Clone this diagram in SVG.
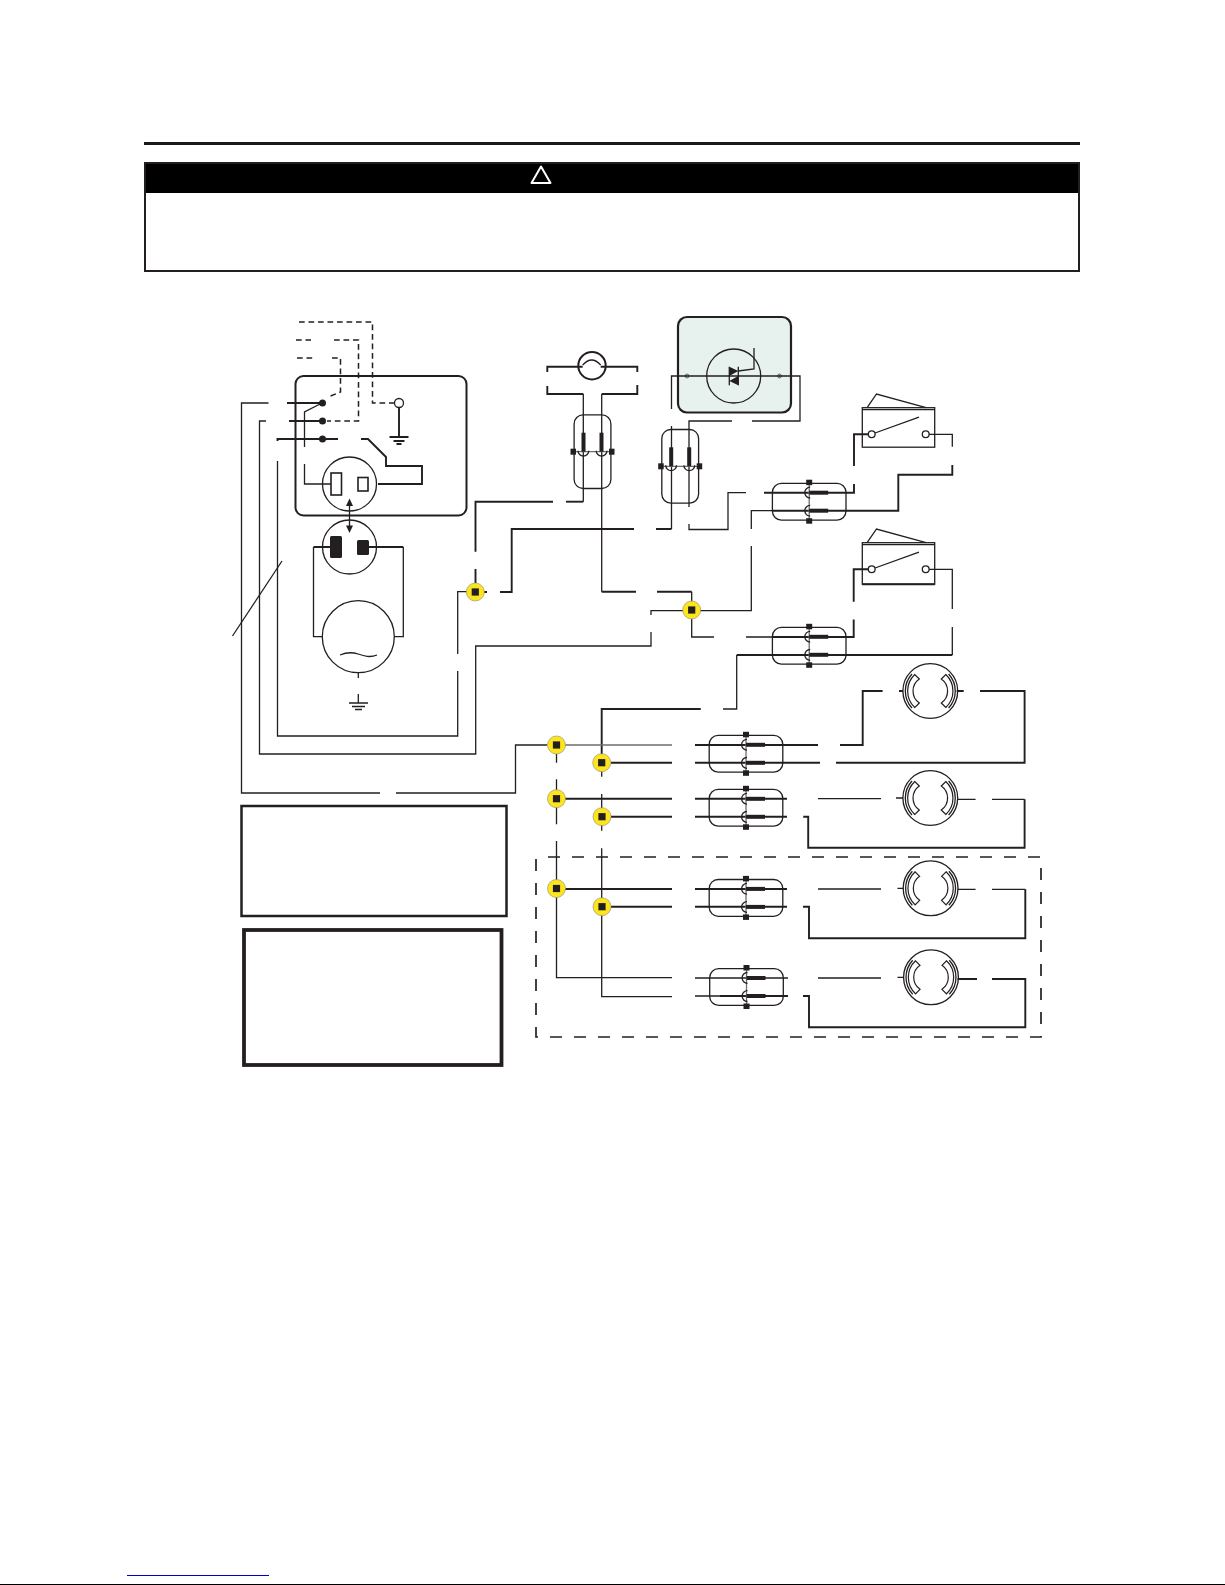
<svg xmlns="http://www.w3.org/2000/svg" xmlns:xlink="http://www.w3.org/1999/xlink" width="1225" height="1585" viewBox="0 0 1225 1585">
<style>
.t{fill:none;stroke:#231f20;stroke-width:1.3}
.k{fill:none;stroke:#231f20;stroke-width:1.9}
.g{fill:none;stroke:#6d6e70;stroke-width:1.3}
.d{fill:none;stroke:#231f20;stroke-width:1.5;stroke-dasharray:5.7 3.8}
.f{fill:#231f20;stroke:none}
.box{fill:none;stroke:#231f20}
.y{fill:#fde51e;stroke:#8a8a70;stroke-width:.6}
</style>
<defs>
<g id="conn">
<rect x="-36.8" y="-18.4" width="73.6" height="36.8" rx="9" class="t"/>
<path d="M0 -18.4V18.4" class="g"/>
<rect x="-3" y="-22" width="6" height="5.5" class="f"/>
<rect x="-3" y="16.500" width="6" height="5.5" class="f"/>
<path d="M1 -14.5A5.400 5.400 0 0 0 1 -3.700M1 3.700A5.400 5.400 0 0 0 1 14.500" class="t"/>
<rect x="0" y="-11" width="19" height="4" class="f"/>
<rect x="0" y="7" width="19" height="4" class="f"/>
</g>
<g id="lamp">
<circle r="27.4" class="t"/>
<path d="M-18.300 -17A25 25 0 0 0 -18.300 17M18.300 -17A25 25 0 0 1 18.300 17" class="t" stroke-width=".9"/>
<path d="M-15.500 -16.500A22.600 22.600 0 0 0 -15.500 16.500L-11 12A14.600 14.600 0 0 1 -11 -12Z" style="stroke-width:1.200" class="t"/>
<path d="M15.500 -16.500A22.600 22.600 0 0 1 15.500 16.500L11 12A14.600 14.600 0 0 0 11 -12Z" style="stroke-width:1.200" class="t"/>
</g>
<g id="junction">
<circle r="9" class="y"/>
<rect x="-3.600" y="-3.600" width="7.200" height="7.200" class="f"/>
</g>
<g id="switch">
<path d="M0 1.900H72.400" class="t" stroke-width="1"/>
<path d="M4.800 0L14.200 -13.700L63.800 0" class="t"/>
<circle cx="9.400" cy="26.600" r="3.400" fill="#fff" class="t"/>
<circle cx="63.400" cy="26.600" r="3.400" fill="#fff" class="t"/>
<path d="M12.700 25.300L56.700 9.500" class="t"/>
</g>
</defs>
<rect width="1225" height="1585" fill="#fff"/>

<g id="header">
<path d="M144 143.500H1080" stroke="#1a1a1a" stroke-width="3" fill="none"/>
<rect x="144" y="162" width="936" height="31" fill="#000"/>
<rect x="145" y="163" width="934" height="108" fill="none" stroke="#231f20" stroke-width="2"/>
<path d="M541 166.500L550.500 183H531.500Z" fill="none" stroke="#fff" stroke-width="2" stroke-linejoin="round"/>
</g>

<g id="generator-panel">
<rect x="295.500" y="376" width="171" height="139.500" rx="8" class="box" stroke-width="2"/>
<circle cx="322.500" cy="403" r="3.500" class="f"/>
<circle cx="322.500" cy="421" r="3.500" class="f"/>
<circle cx="322.500" cy="439" r="3.500" class="f"/>
<circle cx="399" cy="403" r="4.500" fill="#fff" class="t"/>
<path d="M399 408V437M389.500 437H408.500M393.500 441H404.500M396.500 444H401.500" class="k" stroke-width="1.400"/>
<circle cx="349.500" cy="484" r="27" class="t"/>
<rect x="331" y="473" width="10.500" height="22" fill="#fff" stroke="#231f20" stroke-width="1.600"/>
<rect x="358" y="477.500" width="10" height="13.500" fill="#fff" stroke="#231f20" stroke-width="1.600"/>
</g>

<g id="plug">
<circle cx="349.500" cy="547" r="27" class="t"/>
<rect x="330" y="536" width="12" height="22" rx="1.500" class="f"/>
<rect x="357" y="540" width="12" height="15" rx="1.500" class="f"/>
<path d="M349.500 505V526" class="t"/>
<path d="M349.500 498.500L353 506H346Z" class="f"/>
<path d="M349.500 533L353 525.500H346Z" class="f"/>
</g>

<g id="alternator">
<circle cx="358.300" cy="636.700" r="36" class="t"/>
<path d="M340 655C347 652 352 652 358 654S370 658 377 655" class="t"/>
<path d="M358.300 673V678M358.300 694V703M349 703H368M352 706.500H365M355 709.500H362" class="t" stroke-width="1.400"/>
</g>

<g id="leader"><path d="M232.500 636L282 561" class="t"/></g>

<g id="fuse">
<circle cx="592" cy="365.700" r="13.700" fill="none" stroke="#231f20" stroke-width="2"/>
<path d="M582.700 365Q591.700 355 600.700 365" class="t" stroke-width="1"/>
</g>

<g id="triac">
<rect x="678" y="317" width="113" height="95.500" rx="9" fill="#e7f1ed" stroke="#231f20" stroke-width="2.200"/>
<circle cx="733.700" cy="376" r="27" class="t"/>
<circle cx="687" cy="376" r="2" fill="#a9b2ae" stroke="#555" stroke-width=".7"/>
<circle cx="779.500" cy="376" r="2" fill="#a9b2ae" stroke="#555" stroke-width=".7"/>
<path d="M729.300 366.700V385.300M738.300 366.700V385.300" class="t"/>
<path d="M729.300 366.700L738.300 371L729.300 376ZM738.300 376L729.300 381L738.300 385.300Z" class="f"/>
<path d="M738.300 371L754 369V348" class="t"/>
</g>

<g id="connectors">
<path class="d" d="M299 322H372.500V403H394"/>
<path class="d" d="M296 340H311M297 358H314"/>
<path class="d" d="M334 340H358.500V421H327"/>
<path class="d" d="M332 358H340.500V392L328 397"/>

<path class="t" d="M268.500 403H241.500V793H380M396 793H515.500V745H547"/>
<path class="k" d="M287 403H322"/>
<path class="t" d="M266 421H259.500V754H475.700V646H651V632M651 615V610.700H683"/>
<path class="k" d="M289 421H322"/>
<path class="k" d="M277.500 441V439H338M361 439H368L386 457V466H422V484H378"/>
<path class="t" d="M277.500 461V736H457.700V671M457.700 654V591.700H467"/>
<path class="k" d="M484 592H487M500 592H511.700V529H634M656 529H671.500"/>
<path class="t" d="M304.500 447V412L322 403M304.500 464V484H331"/>
<path class="k" d="M313.500 547H330M369 547H403.300"/>
<path class="t" d="M313.500 547V636.700H322M403.300 547V636.700H394.500"/>

<path class="k" d="M547.300 372V366.700H582.700M600.700 366.700H637.300V372M547.300 386V394H583.300M601.700 394H637.300V385"/>
<path class="t" d="M583.300 394V501.700M601.700 394V591.700"/>
<path class="k" d="M566 501.700H583.300"/>
<path class="k" d="M475.500 569V583M475.500 551.700V501.700H553" stroke-width="1.500"/>
<path class="k" d="M601.700 591.700H636M657 591.700H691.700"/>
<path class="t" d="M691.700 591.700V637H714M746 637H772"/>
<path class="k" d="M772 637H853.700V619.500M853.700 601.700V569.300H868"/>
<path class="t" d="M700 610.700H751.300V546M751.300 529V510.700H772"/>

<path class="t" d="M671.500 409V376H800V421H752M732 421H689V507M689 524V529.500H728V492.700H746"/>
<path class="t" d="M671.500 426V529"/>
<path class="k" d="M764 492.700H854V484M854 466V434.300H868"/>
<path class="k" d="M772 510.700H898.300V474.700H952.300V465"/>
<path class="t" d="M952.300 446.700V434.300H929"/>
<path class="t" d="M929 569.300H952.300V609M952.300 627V655"/>
<path class="k" d="M952.300 655H736.700"/>
<path class="t" d="M736.700 655V709H723"/>
<path class="k" d="M700.700 709H601.700V762.700"/>
<path class="t" d="M601.700 762.700V776.700M601.700 794V830.700M601.700 848.300V996.700H672"/>
<path class="t" d="M556.500 745V762.700M556.500 779.300V824.300M556.500 841V977.700H672"/>
<path class="g" d="M565 745H672"/>
<path class="k" d="M611 762.700H672M564 798.700H672M611 816.700H672M564 889H672M611 906.700H672"/>
<path class="k" d="M695 745H818M840 745H862.700V691H882.600M899 691H903M956.600 691H963.700M980 691H1024.600V762.700H836M820 762.700H695"/>
<path class="k" d="M695 798.700H787M695 816.700H787M803.200 816.700H808.200V847.700H1024.600V799.300"/>
<path class="t" d="M818 798.700H881M896 798H903M957.600 799.300H975.600M992 799.300H1024.600"/>
<path class="k" d="M695 889H787M695 906.700H787M803 906.700H809V938.300H1025.300V889.300"/>
<path class="t" d="M818 889H881M897.500 888.300H903.500M957.600 889.300H975.600M992 889.300H1025.300"/>
<path class="t" d="M695 978H788M695 996H720"/>
<path class="k" d="M720 996H788M957.600 979H977M992 979H1025.300V1027.300H809V996H803"/>
<path class="t" d="M818 978H881M897.500 977.300H904"/>
</g>

<g id="connector-1"><use xlink:href="#conn" href="#conn" transform="translate(592.500 451.700) rotate(-90)"/></g>
<g id="connector-2"><use xlink:href="#conn" href="#conn" transform="translate(680.200 466.300) rotate(-90)"/></g>
<g id="connector-3"><use xlink:href="#conn" href="#conn" transform="translate(809.200 501.700)"/></g>
<g id="connector-4"><use xlink:href="#conn" href="#conn" transform="translate(809.200 645.800)"/></g>
<g id="connector-a"><use xlink:href="#conn" href="#conn" transform="translate(746 753.800)"/></g>
<g id="connector-b"><use xlink:href="#conn" href="#conn" transform="translate(746 807.800)"/></g>
<g id="connector-c"><use xlink:href="#conn" href="#conn" transform="translate(746 897.900)"/></g>
<g id="connector-d"><use xlink:href="#conn" href="#conn" transform="translate(746.500 987)"/></g>

<g id="switch-1"><rect x="862.300" y="407.700" width="72.400" height="39.500" class="t"/><use xlink:href="#switch" href="#switch" transform="translate(862.300 407.700)"/></g>
<g id="switch-2"><rect x="862.300" y="542.700" width="72.400" height="41.500" class="t"/><path d="M862.300 584.200H934.700" class="k"/><use xlink:href="#switch" href="#switch" transform="translate(862.300 542.700)"/></g>

<g id="lamp-a"><use xlink:href="#lamp" href="#lamp" transform="translate(930.300 691)"/></g>
<g id="lamp-b"><use xlink:href="#lamp" href="#lamp" transform="translate(930.300 798)"/></g>
<g id="lamp-c"><use xlink:href="#lamp" href="#lamp" transform="translate(930.600 888.300)"/></g>
<g id="lamp-d"><use xlink:href="#lamp" href="#lamp" transform="translate(931 977.300)"/></g>

<g id="junctions">
<use xlink:href="#junction" href="#junction" x="475.300" y="592"/>
<use xlink:href="#junction" href="#junction" x="691.700" y="610"/>
<use xlink:href="#junction" href="#junction" x="556.500" y="745"/>
<use xlink:href="#junction" href="#junction" x="601.700" y="762.700"/>
<use xlink:href="#junction" href="#junction" x="556.500" y="798.700"/>
<use xlink:href="#junction" href="#junction" x="602" y="816.700"/>
<use xlink:href="#junction" href="#junction" x="556.500" y="888.500"/>
<use xlink:href="#junction" href="#junction" x="602" y="906.700"/>
</g>

<g id="optional-frame"><rect x="536" y="857" width="505" height="180" fill="none" stroke="#231f20" stroke-width="1.700" stroke-dasharray="12 12" stroke-dashoffset="12"/></g>
<g id="note-1"><rect x="241.500" y="806" width="265" height="110" class="box" stroke-width="2.500"/></g>
<g id="note-2"><rect x="244" y="930" width="257.500" height="135" class="box" stroke-width="3.800"/></g>

<g id="footer">
<path d="M127 1575.500H269" stroke="#0000cc" stroke-width="1.200" fill="none"/>
<path d="M0 1584.500H1225" stroke="#000" stroke-width="1.200" fill="none"/>
</g>
</svg>
